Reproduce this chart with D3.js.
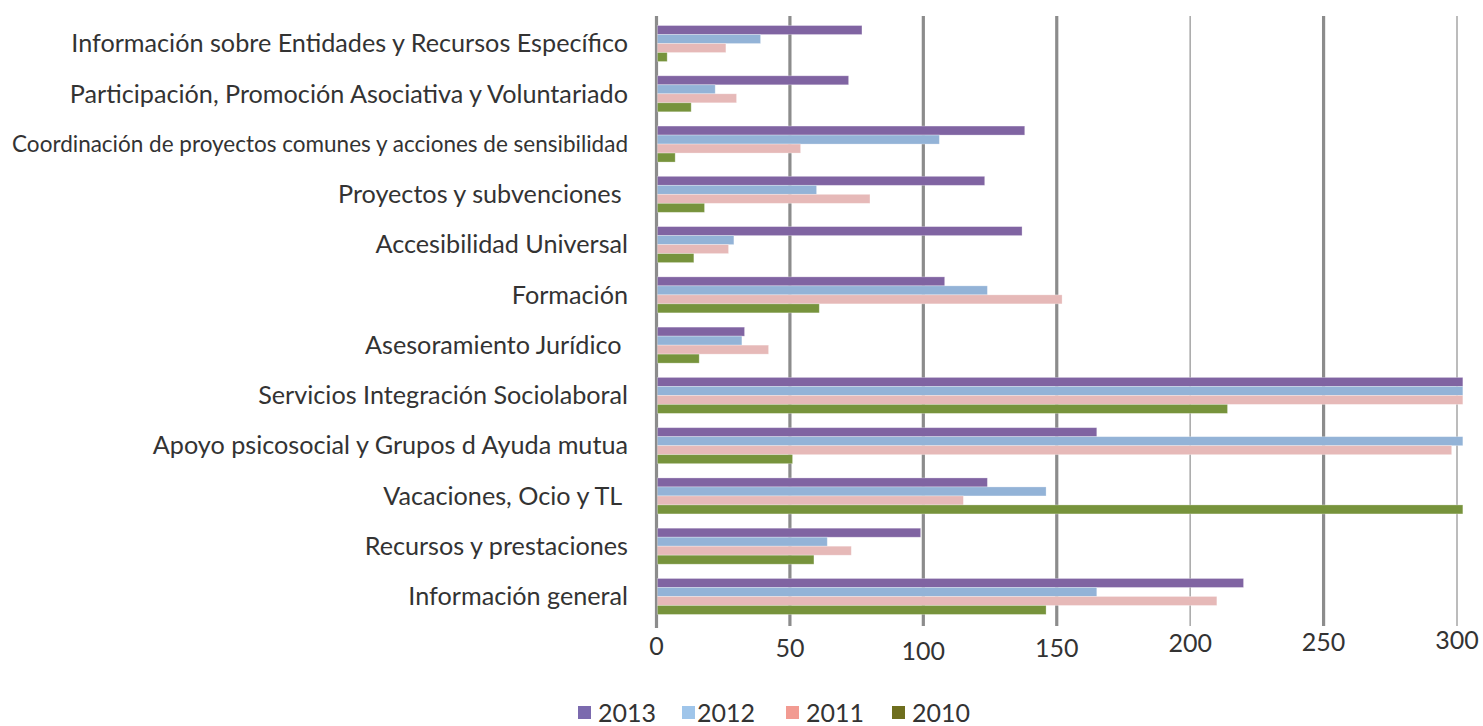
<!DOCTYPE html>
<html>
<head>
<meta charset="utf-8">
<script src="https://cdn.jsdelivr.net/npm/d3@7"></script>
<style>
  html, body { margin: 0; padding: 0; background: #fff; }
  svg { display: block; }
</style>
</head>
<body>
<svg id="chart" width="1483" height="726"></svg>
<script>
const categories = [
  "Información sobre Entidades y Recursos Específico",
  "Participación, Promoción Asociativa y Voluntariado",
  "Coordinación de proyectos comunes y acciones de sensibilidad",
  "Proyectos y subvenciones ",
  "Accesibilidad Universal",
  "Formación",
  "Asesoramiento Jurídico ",
  "Servicios Integración Sociolaboral",
  "Apoyo psicosocial y Grupos d Ayuda mutua",
  "Vacaciones, Ocio y TL ",
  "Recursos y prestaciones",
  "Información general"
];
const years = ["2013", "2012", "2011", "2010"];
const values2013 = [77, 72, 138, 123, 137, 108, 33, 340, 165, 124, 99, 220];
const values2012 = [39, 22, 106, 60, 29, 124, 32, 330, 320, 146, 64, 165];
const values2011 = [26, 30, 54, 80, 27, 152, 42, 325, 298, 115, 73, 210];
const values2010 = [4, 13, 7, 18, 14, 61, 16, 214, 51, 330, 59, 146];
const tickValues = [0, 50, 100, 150, 200, 250, 300];
const tickLabels = ["0", "50", "100", "150", "200", "250", "300"];

const seriesValues = [values2013, values2012, values2011, values2010];
const barColors = ["#8064a2", "#93b3d7", "#e6b9b8", "#77933c"];
const legendColors = ["#7b6aae", "#9fc5ea", "#f29b92", "#6e6e1e"];
const FONT = "Lato, 'Noto Sans', sans-serif";

const svg = d3.select("#chart");
const x = d3.scaleLinear().domain([0, 300]).range([656.5, 1457]);
const y = d3.scaleBand().domain(categories).range([18.4, 621.6]).paddingInner(0.284).paddingOuter(0.142);
const ySub = d3.scaleBand().domain(years).range([0, y.bandwidth()]);

svg.append("defs").append("clipPath").attr("id", "plotclip")
  .append("rect").attr("x", 650).attr("y", 0).attr("width", x(300) - 650 + 5.7).attr("height", 726);

// gridlines
const thin = new Set([200, 300]);
svg.append("g").selectAll("line").data(tickValues).join("line")
  .attr("x1", d => x(d)).attr("x2", d => x(d))
  .attr("y1", 16).attr("y2", d => d === 0 ? 628 : 626)
  .attr("stroke", d => thin.has(d) ? "#a6a6a6" : "#8c8c8c")
  .attr("stroke-width", d => thin.has(d) ? 1.5 : 3.2);

// bars
const rows = [];
categories.forEach((c, i) => years.forEach((yr, j) => rows.push({ c, yr, j, v: seriesValues[j][i] })));
svg.append("g").attr("clip-path", "url(#plotclip)").selectAll("rect").data(rows).join("rect")
  .attr("x", x(0) + 1)
  .attr("y", d => y(d.c) + ySub(d.yr))
  .attr("width", d => x(d.v) - x(0) - 1)
  .attr("height", ySub.bandwidth())
  .attr("fill", d => barColors[d.j])
  .attr("stroke", "rgba(255,255,255,0.35)")
  .attr("stroke-width", 0.8);

// category labels
svg.append("g").selectAll("text").data(categories).join("text")
  .attr("x", 628)
  .attr("y", d => y(d) + y.bandwidth() / 2)
  .attr("dy", "0.35em")
  .attr("text-anchor", "end")
  .attr("xml:space", "preserve")
  .style("white-space", "pre")
  .attr("font-family", FONT)
  .attr("font-size", (d, i) => i === 2 ? 22.5 : 25.2)
  .attr("fill", "#333")
  .text(d => d);

// axis tick labels
const tickDy = [646, 648, 651, 648, 643, 642, 640];
svg.append("g").selectAll("text").data(tickValues).join("text")
  .attr("x", d => x(d))
  .attr("y", (d, i) => tickDy[i])
  .attr("dy", "0.35em")
  .attr("text-anchor", "middle")
  .attr("font-family", FONT)
  .attr("font-size", 25)
  .attr("fill", "#333")
  .text((d, i) => tickLabels[i]);

// legend
const legendX = [578, 682, 786, 892];
const lg = svg.append("g").selectAll("g").data(years).join("g")
  .attr("transform", (d, i) => `translate(${legendX[i]},706)`);
lg.append("rect").attr("width", 13).attr("height", 13).attr("fill", (d, i) => legendColors[i]);
lg.append("text").attr("x", (d, i) => i === 1 ? 15 : 20).attr("y", 7).attr("dy", "0.35em")
  .attr("font-family", FONT).attr("font-size", 25).attr("fill", "#333")
  .text(d => d);
</script>
</body>
</html>
